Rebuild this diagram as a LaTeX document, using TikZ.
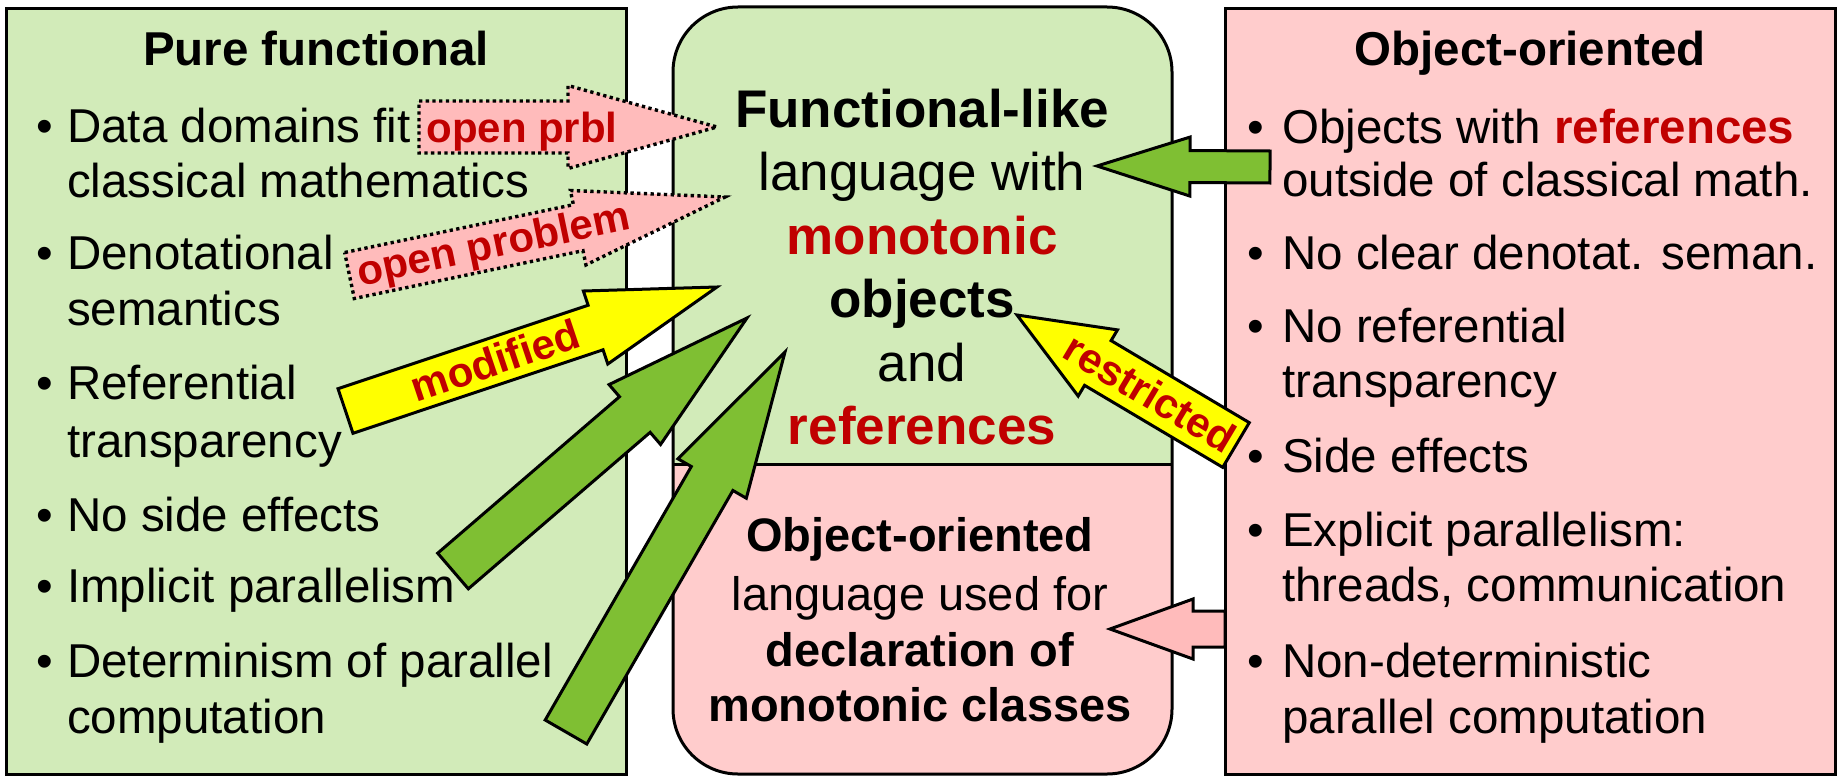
\documentclass[tikz,border=0pt]{standalone}
\usepackage{fontspec}
\setmainfont{Liberation Sans}
\usetikzlibrary{calc}
\definecolor{boxgreen}{RGB}{210,235,185}
\definecolor{boxpink}{RGB}{255,204,204}
\definecolor{arrpink}{RGB}{255,187,187}
\definecolor{arrgreen}{RGB}{127,191,51}
\definecolor{arryellow}{RGB}{255,255,0}
\definecolor{darkred}{RGB}{192,0,0}
% #1 style, #2 name, #3 tail, #4 tip, #5 body half width, #6 head half width, #7 head length
\newcommand\blockarr[7]{%
  \coordinate (#2-b) at ($(#4)!#7!(#3)$);
  \draw[#1] ($(#3)!#5!90:(#4)$) -- ($(#2-b)!#5!90:(#4)$) -- ($(#2-b)!#6!90:(#4)$) -- (#4)
    -- ($(#2-b)!#6!-90:(#4)$) -- ($(#2-b)!#5!-90:(#4)$) -- ($(#3)!#5!-90:(#4)$) -- cycle;
}
\begin{document}
\begin{tikzpicture}[x=1pt,y=-1pt,
  box/.style={draw=black,line width=3pt},
  body/.style={anchor=base west,inner sep=0pt,font=\fontsize{47.5}{57}\selectfont},
  bul/.style={anchor=base,inner sep=0pt,font=\fontsize{47.5}{57}\selectfont},
  ttl/.style={anchor=base,inner sep=0pt,font=\fontsize{47.5}{57}\selectfont\bfseries},
  midtxt/.style={anchor=base,inner sep=0pt,font=\fontsize{53}{63}\selectfont},
  lowtxt/.style={anchor=base,inner sep=0pt,font=\fontsize{47}{56}\selectfont},
  lbl/.style={inner sep=0pt,text=darkred,font=\fontsize{42}{50}\selectfont\bfseries},
  dotarrow/.style={fill=arrpink,draw=black,line width=3.4pt,dash pattern=on 3.3pt off 3.4pt},
  solarrow/.style={draw=black,line width=3pt,line join=miter},
]
\useasboundingbox (0,0) rectangle (1841,776);
\fill[white] (0,0) rectangle (1841,776);

% boxes
\draw[box,fill=boxgreen] (6,9) rectangle (626,774);
\draw[box,fill=boxpink] (1225,9) rectangle (1835,774);
\fill[boxpink,rounded corners=65pt] (673,7) rectangle (1172,774);
\begin{scope}
  \clip (600,0) rectangle (1250,464);
  \fill[boxgreen,rounded corners=65pt] (673,7) rectangle (1172,774);
\end{scope}
\draw[box,rounded corners=65pt] (673,7) rectangle (1172,774);
\draw[box] (673,464) -- (1172,464);

% left column
\node[ttl] (lt) at (316,66) {Pure functional};
\node[bul] (lb1) at (45,142) {•};
\node[body] (l1a) at (67,142) {Data domains fit};
\node[body] (l1b) at (67,197) {classical mathematics};
\node[bul] (lb2) at (45,269) {•};
\node[body] (l2a) at (67,269) {Denotational};
\node[body] (l2b) at (67,325) {semantics};
\node[bul] (lb3) at (45,399) {•};
\node[body] (l3a) at (67,399) {Referential};
\node[body] (l3b) at (67,457) {transparency};
\node[bul] (lb4) at (45,531) {•};
\node[body] (l4a) at (67,531) {No side effects};
\node[bul] (lb5) at (45,602) {•};
\node[body] (l5a) at (67,602) {Implicit parallelism};
\node[bul] (lb6) at (45,677) {•};
\node[body] (l6a) at (67,677) {Determinism of parallel};
\node[body] (l6b) at (67,733) {computation};

% right column
\node[ttl] (rt) at (1530,66) {Object-oriented};
\node[bul] (rb1) at (1256,143) {•};
\node[body] (r1a) at (1282,143) {Objects with \textcolor{darkred}{\bfseries references}};
\node[body] (r1b) at (1282,196) {outside of classical math.};
\node[bul] (rb2) at (1256,269) {•};
\node[body] (r2a) at (1282,269) {No clear denotat. seman.};
\node[bul] (rb3) at (1256,342) {•};
\node[body] (r3a) at (1282,342) {No referential};
\node[body] (r3b) at (1282,397) {transparency};
\node[bul] (rb4) at (1256,472) {•};
\node[body] (r4a) at (1282,472) {Side effects};
\node[bul] (rb5) at (1256,546) {•};
\node[body] (r5a) at (1282,546) {Explicit parallelism:};
\node[body] (r5b) at (1282,601) {threads, communication};
\node[bul] (rb6) at (1256,677) {•};
\node[body] (r6a) at (1282,677) {Non-deterministic};
\node[body] (r6b) at (1282,733) {parallel computation};

% middle top
\node[midtxt,font=\fontsize{53}{63}\selectfont\bfseries] (m1) at (922,127) {Functional-like};
\node[midtxt] (m2) at (922,190) {language with};
\node[midtxt,font=\fontsize{53}{63}\selectfont\bfseries,text=darkred] (m3) at (922,254) {monotonic};
\node[midtxt,font=\fontsize{53}{63}\selectfont\bfseries] (m4) at (922,317) {objects};
\node[midtxt] (m5) at (922,381) {and};
\node[midtxt,font=\fontsize{53}{63}\selectfont\bfseries,text=darkred] (m6) at (922,444) {references};

% middle bottom
\node[lowtxt,font=\fontsize{47}{56}\selectfont\bfseries] (n1) at (920,551) {Object-oriented};
\node[lowtxt] (n2) at (920,610) {language used for};
\node[lowtxt,font=\fontsize{47}{56}\selectfont\bfseries] (n3) at (920,666) {declaration of};
\node[lowtxt,font=\fontsize{47}{56}\selectfont\bfseries] (n4) at (920,721) {monotonic classes};

% arrow end points
\coordinate (a1t) at (419,127);   \coordinate (a1h) at (717,127);
\coordinate (a2t) at (349.5,275.5); \coordinate (a2h) at (725,197);
\coordinate (a3t) at (345.5,411); \coordinate (a3h) at (717,287);
\coordinate (a4t) at (453,571);   \coordinate (a4h) at (747,318);
\coordinate (a5t) at (566,732);   \coordinate (a5h) at (785,352);
\coordinate (a6t) at (1270,167);  \coordinate (a6h) at (1097,166);
\coordinate (a7t) at (1236,445);  \coordinate (a7h) at (1017,315);
\coordinate (a8t) at (1225,629);  \coordinate (a8h) at (1110,629);

\blockarr{dotarrow}{a1}{a1t}{a1h}{26pt}{41.5pt}{149pt}
\blockarr{dotarrow}{a2}{a2t}{a2h}{23.5pt}{38pt}{150pt}
\blockarr{solarrow,fill=arryellow}{a3}{a3t}{a3h}{23.5pt}{38.5pt}{128pt}
\blockarr{solarrow,fill=arrgreen}{a4}{a4t}{a4h}{23.5pt}{39.5pt}{148pt}
\blockarr{solarrow,fill=arrgreen}{a5}{a5t}{a5h}{24pt}{39.5pt}{146pt}
\blockarr{solarrow,fill=arrgreen}{a6}{a6t}{a6h}{16pt}{29.5pt}{93pt}
\blockarr{solarrow,fill=arryellow}{a7}{a7t}{a7h}{26pt}{38.5pt}{94pt}
\blockarr{solarrow,fill=arrpink}{a8}{a8t}{a8h}{18pt}{30pt}{83pt}

% arrow labels
\node[lbl,anchor=base] (t1) at (522,142) {open prbl};
\node[lbl,rotate=11.8] (t2) at (494,247) {open problem};
\node[lbl,rotate=18.5] (t3) at (495,360) {modified};
\node[lbl,rotate=-30.8] (t7) at (1150,393) {restricted};
\end{tikzpicture}
\end{document}
